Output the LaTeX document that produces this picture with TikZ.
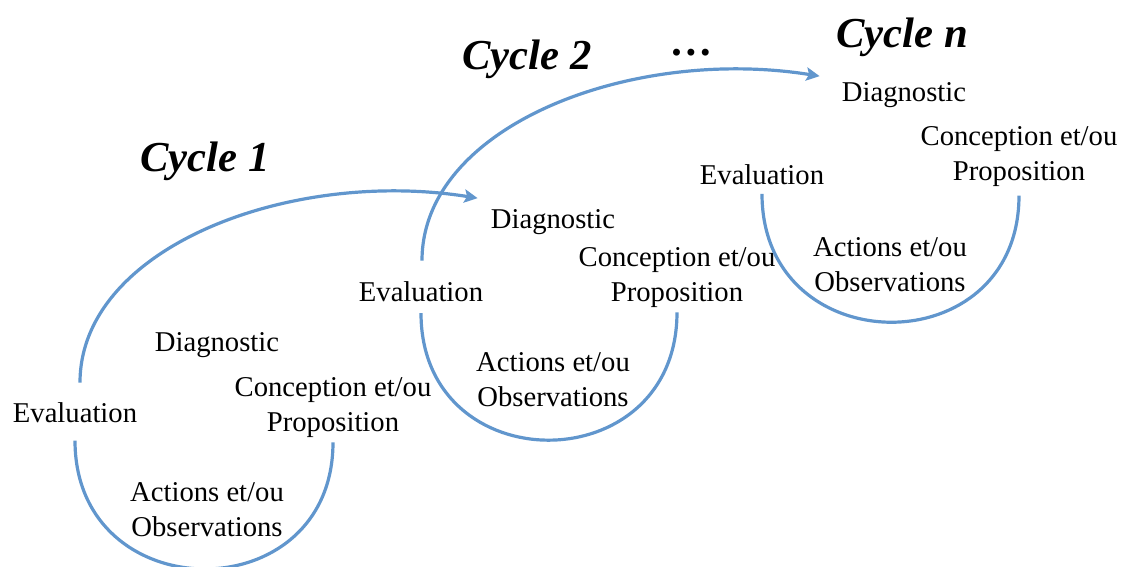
\documentclass[tikz,border=0pt]{standalone}
\usepackage{fontspec}
\setmainfont{Liberation Serif}
\usetikzlibrary{arrows.meta}
\definecolor{cycblue}{RGB}{97,150,205}

\begin{document}
\begin{tikzpicture}[x=0.75pt,y=-0.75pt,
  lbl/.style={inner sep=0pt,align=center,font=\fontsize{21.5}{26.25}\selectfont},
  ttl/.style={inner sep=0pt,font=\fontsize{32}{38}\selectfont\bfseries\itshape},
  cyc/.style={draw=cycblue,line width=2.4pt},
  cycarrow/.style={cyc,-{Stealth[length=10pt,width=10pt,inset=2pt]}}]

\useasboundingbox (0,0) rectangle (1122,567);



\node [ttl] (cyc1-title) at (205,161){Cycle 1};

\node [lbl] (cyc1-diag) at (217,345){Diagnostic};

\node [lbl] (cyc1-conc) at (333,408){Conception et/ou\\Proposition};

\node [lbl] (cyc1-act) at (207,510){Actions et/ou\\Observations};

\node [lbl] (cyc1-eval) at (75,413){Evaluation};
\draw [cyc]   ([yshift=-13pt]cyc1-eval.south) .. controls +(0,170) and +(0,170) .. ([yshift=-3pt]cyc1-conc.south);



\node [ttl] (cyc2-title) at (527,59){Cycle 2};

\node [lbl] (cyc2-diag) at (553,222){Diagnostic};
\draw [cycarrow]   ([xshift=3.75pt,yshift=15pt]cyc1-eval.north) .. controls +(0,-135) and +(-188,-30) .. ([xshift=-9.75pt,yshift=8.25pt]cyc2-diag.north west);

\node [lbl] (cyc2-conc) at (677,278){Conception et/ou\\Proposition};

\node [lbl] (cyc2-act) at (553,380){Actions et/ou\\Observations};

\node [lbl] (cyc2-eval) at (421,292){Evaluation};
\draw [cyc]   ([yshift=-8pt]cyc2-eval.south) .. controls +(0,170) and +(0,170) .. ([yshift=-3pt]cyc2-conc.south);



\node [ttl] (cyc-dots) at (693,53){…};



\node [ttl] (cycn-title) at (902,37){Cycle n};

\node [lbl] (cycn-diag) at (904,95){Diagnostic};
\draw [cycarrow]   ([xshift=0.75pt,yshift=15.75pt]cyc2-eval.north) .. controls +(0,-135) and +(-188,-30) .. ([xshift=-16.5pt,yshift=4.5pt]cycn-diag.north west);

\node [lbl] (cycn-conc) at (1019,157){Conception et/ou\\Proposition};

\node [lbl] (cycn-act) at (890,265){Actions et/ou\\Observations};

\node [lbl] (cycn-eval) at (762,175){Evaluation};
\draw [cyc]   ([yshift=-6.4pt]cycn-eval.south) .. controls +(0,170) and +(0,170) .. ([yshift=-6.2pt]cycn-conc.south);


%%%%%%%%%%%%%%%%%%%%%%%%%%%%%%%%%%%%%%%%%%%%%%%%%%%%%%%%%%%%%%%%%

\end{tikzpicture}
\end{document}
